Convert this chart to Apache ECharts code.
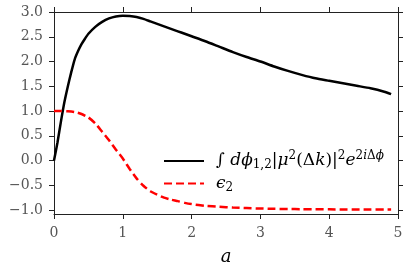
<!DOCTYPE html>
<html>
<head>
<meta charset="utf-8">
<script src="https://cdn.jsdelivr.net/npm/echarts@6/dist/echarts.min.js"></script>
<style>html,body{margin:0;padding:0;background:#fff;}#c{width:407px;height:271px;}</style>
</head>
<body>
<div id="c"></div>
<script>
var xTicks = [0, 1, 2, 3, 4, 5];
var yTicks = [-1.0, -0.5, 0.0, 0.5, 1.0, 1.5, 2.0, 2.5, 3.0];

var blackX = [0, 0.05, 0.1, 0.15, 0.2, 0.25, 0.3, 0.35, 0.4, 0.45, 0.5, 0.6, 0.7, 0.8, 0.9, 1.0, 1.1, 1.2, 1.3, 1.4, 1.5, 1.6, 1.7, 1.8, 1.9, 2.0, 2.2, 2.4, 2.6, 2.8, 3.0, 3.2, 3.4, 3.6, 3.8, 4.0, 4.2, 4.4, 4.6, 4.8, 4.9];
var blackY = [0, 0.36, 0.78, 1.17, 1.49, 1.78, 2.04, 2.21, 2.35, 2.46, 2.56, 2.70, 2.80, 2.87, 2.91, 2.925, 2.92, 2.90, 2.86, 2.81, 2.76, 2.71, 2.66, 2.61, 2.56, 2.51, 2.41, 2.30, 2.19, 2.09, 2.00, 1.90, 1.81, 1.73, 1.66, 1.61, 1.56, 1.51, 1.46, 1.39, 1.34];

var redX = [0, 0.1, 0.2, 0.3, 0.4, 0.5, 0.6, 0.7, 0.8, 0.9, 1.0, 1.1, 1.2, 1.3, 1.4, 1.5, 1.6, 1.7, 1.8, 1.9, 2.0, 2.2, 2.4, 2.6, 2.8, 3.0, 3.2, 3.4, 3.6, 3.8, 4.0, 4.2, 4.4, 4.6, 4.8, 4.9];
var redY = [1.0, 1.0, 0.995, 0.98, 0.94, 0.87, 0.75, 0.58, 0.41, 0.22, 0.04, -0.17, -0.36, -0.51, -0.62, -0.69, -0.75, -0.79, -0.82, -0.855, -0.88, -0.915, -0.935, -0.95, -0.96, -0.97, -0.975, -0.98, -0.982, -0.984, -0.986, -0.988, -0.99, -0.99, -0.99, -0.99];

var name1 = 'int';
var name2 = 'eps';

var chart = echarts.init(document.getElementById('c'), null, {renderer: 'canvas'});
var serif = '"DejaVu Serif", serif';
var fmtY = function (v) { return (v < 0 ? '\u2212' : '') + Math.abs(v).toFixed(1); };
var axisCommon = {
  axisLine: {show: true, onZero: false, lineStyle: {color: '#222', width: 1}},
  axisTick: {show: true, inside: false, length: 5, lineStyle: {color: '#222', width: 1}},
  splitLine: {show: false}
};
var base = {fontFamily: serif, fontSize: 17, color: '#000', lineHeight: 24, verticalAlign: 'middle'};
var small = {fontFamily: serif, fontSize: 12, color: '#000', lineHeight: 12};
var rich = {
  m: base,
  i: Object.assign({}, base, {fontStyle: 'italic'}),
  sub: Object.assign({}, small, {verticalAlign: 'bottom', padding: [0, 0, 2, 0]}),
  sup: Object.assign({}, small, {verticalAlign: 'top', padding: [1, 0, 0, 0]}),
  supi: Object.assign({}, small, {fontStyle: 'italic', verticalAlign: 'top', padding: [1, 0, 0, 0]})
};

chart.setOption({
  animation: false,
  backgroundColor: '#fff',
  grid: {left: 54, right: 9, top: 12, bottom: 57, containLabel: false},
  legend: {
    orient: 'vertical', left: 163, top: 149, padding: 0, itemWidth: 40, itemHeight: 10, itemGap: 2,
    data: [name1, name2],
    itemStyle: {opacity: 0},
    formatter: function (n) {
      if (n === name1) {
        return '{m|\u222B }{i|d\u03D5}{sub|1,2}{m||}{i|\u03BC}{sup|2}{m|(\u0394}{i|k}{m|)|}{sup|2}{i|e}{sup|2}{supi|i}{sup|\u0394}{supi|\u03D5}';
      }
      return '{i|\u03F5}{sub|2}';
    },
    textStyle: {rich: rich, padding: [0, 0, 0, 7]}
  },
  xAxis: [
    Object.assign({}, axisCommon, {
      type: 'value', position: 'bottom', min: 0, max: 5, interval: 1,
      axisLabel: {show: true, margin: 12, fontFamily: serif, fontSize: 14, color: '#555',
        customValues: xTicks, formatter: function (v) { return String(v); }},
      axisTick: Object.assign({}, axisCommon.axisTick, {customValues: xTicks}),
      name: 'a', nameLocation: 'middle', nameGap: 34,
      nameTextStyle: {fontFamily: serif, fontStyle: 'italic', fontSize: 18, color: '#000'}
    }),
    Object.assign({}, axisCommon, {
      type: 'value', position: 'top', min: 0, max: 5, interval: 1,
      axisLabel: {show: false},
      axisTick: Object.assign({}, axisCommon.axisTick, {customValues: xTicks})
    })
  ],
  yAxis: [
    Object.assign({}, axisCommon, {
      type: 'value', position: 'left', min: -1.08, max: 3,
      axisLabel: {show: true, margin: 11, fontFamily: serif, fontSize: 14, color: '#555',
        customValues: yTicks, formatter: fmtY},
      axisTick: Object.assign({}, axisCommon.axisTick, {customValues: yTicks})
    }),
    Object.assign({}, axisCommon, {
      type: 'value', position: 'right', min: -1.08, max: 3,
      axisLabel: {show: false, customValues: yTicks},
      axisTick: Object.assign({}, axisCommon.axisTick, {customValues: yTicks})
    })
  ],
  series: [
    {
      name: name1, type: 'line', xAxisIndex: 0, yAxisIndex: 0, smooth: 0.2, symbol: 'none',
      data: blackX.map(function (x, i) { return [x, blackY[i]]; }),
      lineStyle: {color: '#000', width: 2.5},
      itemStyle: {color: '#000'}
    },
    {
      name: name2, type: 'line', xAxisIndex: 0, yAxisIndex: 0, smooth: 0.2, symbol: 'none',
      data: redX.map(function (x, i) { return [x, redY[i]]; }),
      lineStyle: {color: '#ff0000', width: 2.5, type: [8, 4]},
      itemStyle: {color: '#ff0000'}
    }
  ]
});
</script>
</body>
</html>
